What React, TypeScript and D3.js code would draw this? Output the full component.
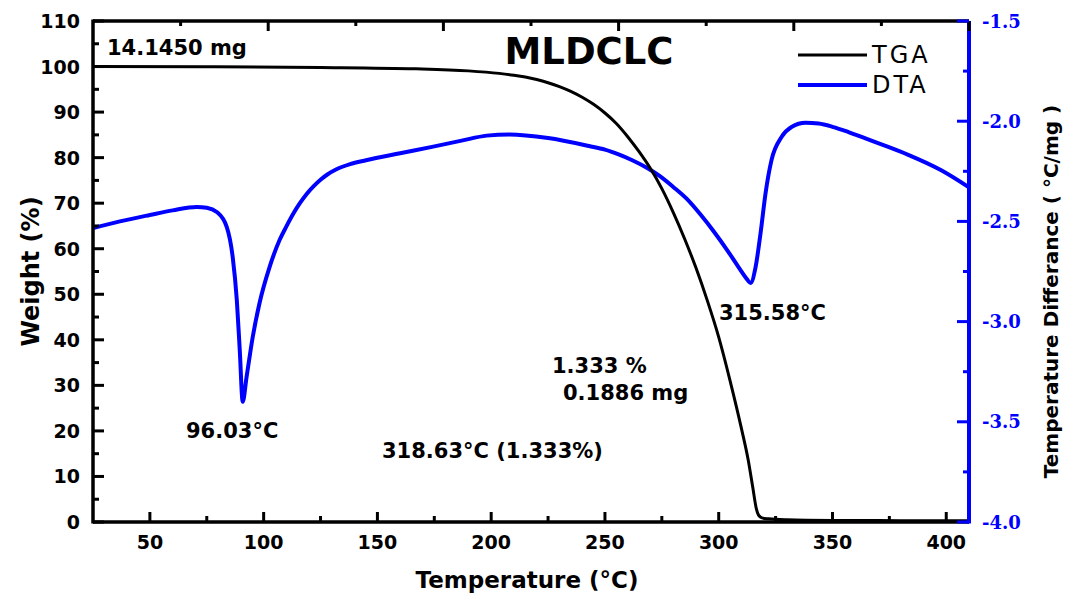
import React from "react";
import * as d3 from "d3";

// TGA: weight (%) vs temperature (°C)
const tgaTemp = [25, 75, 125, 167, 190, 203.5, 210, 215, 220, 225, 230, 235, 240, 245, 250, 255, 260, 265, 270, 275, 280, 285, 290, 295, 300, 305, 310, 313, 315, 316.5, 317.5, 319, 322, 330, 350, 380, 410];
const tgaWeight = [100, 99.95, 99.8, 99.5, 99.05, 98.5, 98.1, 97.7, 97.15, 96.45, 95.6, 94.55, 93.25, 91.7, 89.8, 87.5, 84.6, 81.3, 77.6, 73.2, 68.0, 62.2, 55.8, 48.6, 40.6, 31.0, 20.5, 13.5, 7.5, 3.0, 1.5, 0.9, 0.7, 0.5, 0.35, 0.3, 0.25];

// DTA: temperature difference (°C/mg) vs temperature (°C)
const dtaTemp = [25, 36.8, 50, 60, 70.6, 75, 79.4, 83.8, 86.4, 88.2, 89.5, 90.8, 92.5, 95.2, 98.2, 102.6, 107, 110, 113, 116, 119, 122, 125, 128, 132, 138, 145, 160, 174, 187, 198, 208, 225, 243, 250, 256, 262, 268, 274, 280, 286, 292, 298, 304, 309, 312, 314, 316.2, 318.4, 320.6, 323.2, 327.6, 332, 338.2, 343.9, 350, 357, 364.5, 373, 383.3, 397.8, 410];
const dtaValue = [-2.533, -2.5, -2.468, -2.445, -2.428, -2.432, -2.453, -2.528, -2.678, -2.892, -3.142, -3.4, -3.276, -3.077, -2.907, -2.728, -2.593, -2.525, -2.462, -2.408, -2.362, -2.324, -2.292, -2.266, -2.24, -2.214, -2.195, -2.16, -2.128, -2.097, -2.072, -2.066, -2.084, -2.124, -2.142, -2.166, -2.195, -2.23, -2.273, -2.328, -2.388, -2.466, -2.553, -2.648, -2.733, -2.782, -2.807, -2.728, -2.558, -2.358, -2.194, -2.079, -2.029, -2.008, -2.012, -2.028, -2.054, -2.086, -2.122, -2.168, -2.245, -2.33];

const xTicks = [50, 100, 150, 200, 250, 300, 350, 400];
const xMinor = [75, 125, 175, 225, 275, 325, 375];
const leftTicks = [0, 10, 20, 30, 40, 50, 60, 70, 80, 90, 100, 110];
const leftMinor = [5, 15, 25, 35, 45, 55, 65, 75, 85, 95, 105];
const rightTicks = [-1.5, -2.0, -2.5, -3.0, -3.5, -4.0];
const rightMinor = [-1.75, -2.25, -2.75, -3.25, -3.75];
const topTicks = [0, 1, 2, 3, 4];
const topMinor = [-0.5, 0.5, 1.5, 2.5, 3.5];

const W = 1065;
const H = 594;
const left = 93;
const right = 969;
const top = 21;
const bottom = 522;
const BLUE = "#0000ff";
const SANS = "DejaVu Sans";

export default function App() {
  const x = d3.scaleLinear().domain([25, 410]).range([left, right]);
  const xTop = d3.scaleLinear().domain([-1, 4]).range([left, right]);
  const yL = d3.scaleLinear().domain([0, 110]).range([bottom, top]);
  const yR = d3.scaleLinear().domain([-4.0, -1.5]).range([bottom, top]);

  const tga = tgaTemp.map((t, i) => [t, tgaWeight[i]] as [number, number]);
  const dta = dtaTemp.map((t, i) => [t, dtaValue[i]] as [number, number]);

  const tgaLine = d3
    .line<[number, number]>()
    .x(d => x(d[0]))
    .y(d => yL(d[1]))
    .curve(d3.curveMonotoneX);
  const dtaLine = d3
    .line<[number, number]>()
    .x(d => x(d[0]))
    .y(d => yR(d[1]))
    .curve(d3.curveMonotoneX);

  const bold = { fontFamily: SANS, fontWeight: 700 } as const;

  return (
    <svg
      width={W}
      height={H}
      style={{ position: "absolute", left: 0, top: 0, background: "#fff" }}
    >
      <defs>
        <clipPath id="plot">
          <rect x={left} y={top} width={right - left} height={bottom - top} />
        </clipPath>
      </defs>

      {/* curves */}
      <g clipPath="url(#plot)" fill="none" strokeLinejoin="round">
        <path d={dtaLine(dta) || ""} stroke={BLUE} strokeWidth={4} />
        <path d={tgaLine(tga) || ""} stroke="#000" strokeWidth={3} />
      </g>

      {/* frame */}
      <g stroke="#000" strokeWidth={3.5} fill="none">
        <line x1={left} y1={top} x2={right} y2={top} />
        <line x1={left} y1={top - 1.5} x2={left} y2={bottom + 1.5} />
        <line x1={left} y1={bottom} x2={right} y2={bottom} />
      </g>
      <line x1={right} y1={top} x2={right} y2={bottom + 1.5} stroke={BLUE} strokeWidth={4} />

      {/* ticks */}
      <g stroke="#000" strokeWidth={3}>
        {xTicks.map(t => (
          <line key={t} x1={x(t)} x2={x(t)} y1={bottom} y2={bottom - 10} />
        ))}
        {xMinor.map(t => (
          <line key={t} x1={x(t)} x2={x(t)} y1={bottom} y2={bottom - 6} />
        ))}
        {topTicks.map(t => (
          <line key={t} x1={xTop(t)} x2={xTop(t)} y1={top} y2={top + 10} />
        ))}
        {topMinor.map(t => (
          <line key={t} x1={xTop(t)} x2={xTop(t)} y1={top} y2={top + 5} />
        ))}
        {leftTicks.map(t => (
          <line key={t} x1={left} x2={left + 11} y1={yL(t)} y2={yL(t)} />
        ))}
        {leftMinor.map(t => (
          <line key={t} x1={left} x2={left + 6} y1={yL(t)} y2={yL(t)} />
        ))}
      </g>
      <g stroke={BLUE} strokeWidth={3}>
        {rightTicks.map(t => (
          <line key={t} x1={right} x2={right - 12} y1={yR(t)} y2={yR(t)} />
        ))}
        {rightMinor.map(t => (
          <line key={t} x1={right} x2={right - 6} y1={yR(t)} y2={yR(t)} />
        ))}
      </g>

      {/* tick labels */}
      <g {...bold} fontSize={19} fill="#000">
        {xTicks.map(t => (
          <text key={t} x={x(t)} y={549} textAnchor="middle">
            {t}
          </text>
        ))}
        {leftTicks.map(t => (
          <text key={t} x={80} y={yL(t) + 7} textAnchor="end">
            {t}
          </text>
        ))}
      </g>
      <g fontFamily="DejaVu Serif" fontWeight={700} fontSize={18} fill={BLUE}>
        {rightTicks.map(t => (
          <text key={t} x={982} y={yR(t) + 6.5}>
            {d3.format(".1f")(t).replace("−", "-")}
          </text>
        ))}
      </g>

      {/* axis titles */}
      <text {...bold} fontSize={23} x={527} y={588} textAnchor="middle">
        Temperature (°C)
      </text>
      <text
        {...bold}
        fontSize={24}
        transform={`translate(39, ${(top + bottom) / 2}) rotate(-90)`}
        textAnchor="middle"
      >
        Weight (%)
      </text>
      <text
        {...bold}
        fontSize={20}
        transform={`translate(1058, ${(top + bottom) / 2 + 20}) rotate(-90)`}
        textAnchor="middle"
      >
        Temperature Differance ( °C/mg )
      </text>

      {/* title and annotations */}
      <text {...bold} fontSize={37} x={589} y={64} textAnchor="middle">
        MLDCLC
      </text>
      <g {...bold} fontSize={21} fill="#000">
        <text x={107} y={55}>14.1450 mg</text>
        <text x={186} y={438}>96.03°C</text>
        <text x={719} y={320}>315.58°C</text>
        <text x={552} y={373}>1.333 %</text>
        <text x={563} y={400}>0.1886 mg</text>
        <text x={382} y={458}>318.63°C (1.333%)</text>
      </g>

      {/* legend */}
      <g fontFamily={SANS} fontSize={24} letterSpacing={3}>
        <line x1={798} x2={867} y1={55} y2={55} stroke="#000" strokeWidth={3} />
        <text x={872} y={63}>TGA</text>
        <line x1={798} x2={867} y1={85} y2={85} stroke={BLUE} strokeWidth={4} />
        <text x={872} y={93}>DTA</text>
      </g>
    </svg>
  );
}
